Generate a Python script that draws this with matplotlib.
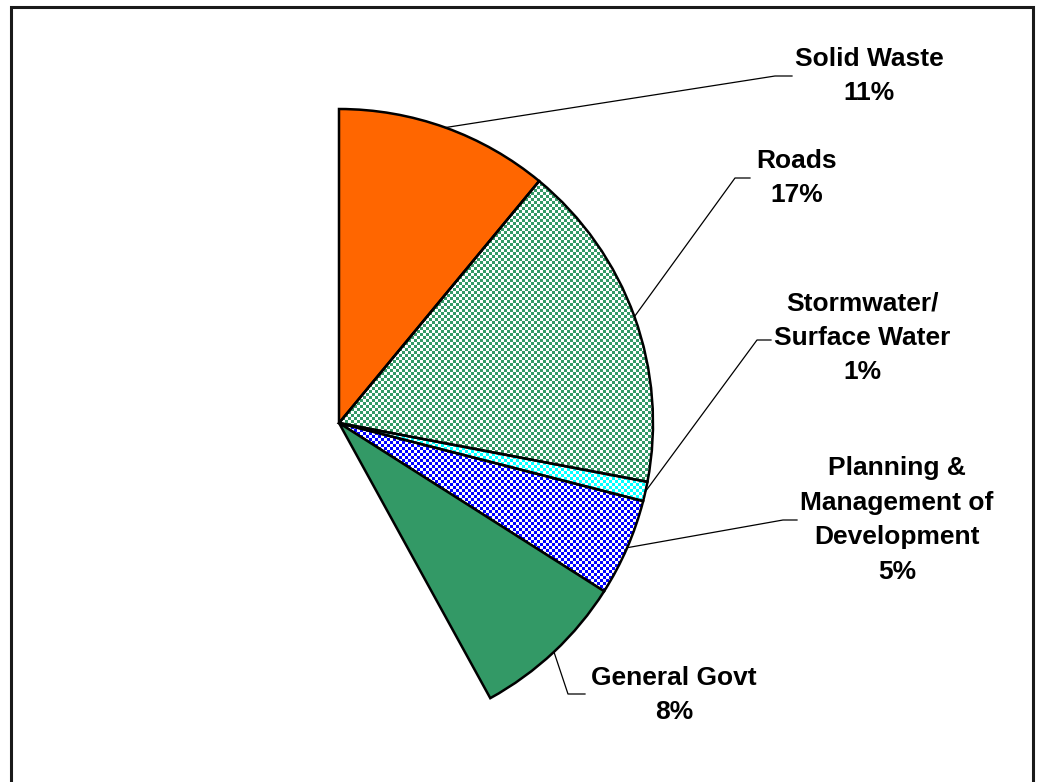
import numpy as np
import matplotlib
matplotlib.use('Agg')
import matplotlib.pyplot as plt
from matplotlib.patches import Rectangle

# capital spending shares by service area (percent)
categories = ['Solid Waste', 'Roads', 'Stormwater/\nSurface Water',
              'Planning &\nManagement of\nDevelopment', 'General Govt']
shares = [11, 17, 1, 5, 8]
labels = ['%s\n%d%%' % (c, s) for c, s in zip(categories, shares)]

solid_colors = ['#FF6600', None, None, None, '#339966']
dither_colors = [None, '#339966', '#00FFFF', '#0000FF', None]

# label block centres and leader-line elbows, in pixels from top-left
label_xy = [(869, 76), (797, 178), (862, 338), (897, 520), (674, 695)]
elbow_xy = [(775, 76), (735, 178), (757, 340), (783, 520), (568, 694)]
tip_xy = [(792, 76), (750, 178), (771, 340), (797, 520), (585, 694)]

W, H = 1039, 782
cx, cy, R = 339, 423, 314

plt.rcParams['font.family'] = ['Liberation Sans', 'DejaVu Sans']

fig = plt.figure(figsize=(W / 100, H / 100), dpi=100)
ax = fig.add_axes([0, 0, 1, 1])

face = [c if c else 'none' for c in solid_colors]
wedges, _ = ax.pie([s / 100 for s in shares], normalize=False, startangle=90,
                   counterclock=False, center=(cx, H - cy), radius=R,
                   colors=face,
                   wedgeprops=dict(edgecolor='black', linewidth=1.8))

# checkered fills, clipped to their wedge
yy, xx = np.mgrid[0:H, 0:W]
checker = ((xx // 3 + yy // 3) % 2).astype(bool)
for w, col in zip(wedges, dither_colors):
    if col is None:
        continue
    rgb = np.array(matplotlib.colors.to_rgb(col))
    img = np.ones((H, W, 3))
    img[checker] = rgb
    im = ax.imshow(img, extent=(0, W, 0, H), origin='upper',
                   interpolation='none', zorder=0)
    im.set_clip_path(w)

# leader lines from the middle of each arc to its label
for w, lab, (lx, ly), (ex, ey), (tx, ty) in zip(wedges, labels, label_xy, elbow_xy, tip_xy):
    mid = np.deg2rad((w.theta1 + w.theta2) / 2)
    sx = cx + R * np.cos(mid)
    sy = (H - cy) + R * np.sin(mid)
    ax.plot([sx, ex, tx], [sy, H - ey, H - ty], color='black', lw=0.9, zorder=3)
    ax.text(lx, H - ly, lab, ha='center', va='center', fontsize=19,
            fontweight='bold', linespacing=1.55, zorder=4)

# chart border
ax.add_patch(Rectangle((11, -20), 1022, H - 7 + 20, fill=False,
                       edgecolor='#1a1a1a', lw=2.2, clip_on=False, zorder=5))

ax.set_xlim(0, W)
ax.set_ylim(0, H)
ax.set_aspect('equal')
ax.axis('off')

fig.savefig('out.png', dpi=100)
